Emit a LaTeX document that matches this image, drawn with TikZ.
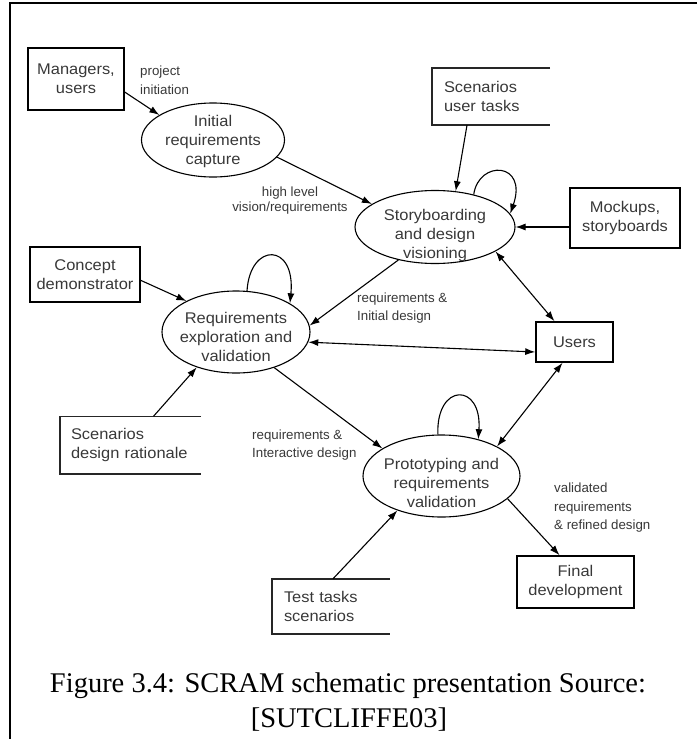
\documentclass[tikz,border=0pt]{standalone}
\usepackage{fontspec}
\setmainfont{Liberation Serif}
\newfontfamily\nodefont[FakeStretch=1.06]{Liberation Sans}
\newfontfamily\labelfont{Liberation Sans}
\usetikzlibrary{arrows.meta,shapes.geometric}

\begin{document}
\begin{tikzpicture}[x=1pt,y=-1pt,
  txt/.style={font=\nodefont\fontsize{15.5}{19}\selectfont, text=black!78, align=center},
  lbl/.style={font=\labelfont\fontsize{13.3}{18.5}\selectfont, text=black!78, inner sep=0pt, align=left},
  box/.style={txt, draw, line width=1.6pt, inner sep=0pt},
  openbox/.style={txt, align=left, inner ysep=0pt},
  sideline/.style={line width=1.6pt, draw=black!85},
  proc/.style={ellipse, draw, line width=1.1pt, inner sep=0pt},
  flow/.style={line width=1.1pt, -{Latex[length=10pt,width=7pt]}},
  twoway/.style={line width=1.1pt, {Latex[length=10pt,width=7pt]}-{Latex[length=10pt,width=7pt]}},
  captext/.style={font=\fontsize{28.5}{35}\selectfont, inner sep=0pt, anchor=base}
]
\useasboundingbox (0,0) rectangle (697,739);

% frame around the figure
\draw[line width=1.5pt] (697,3) -- (10,3) -- (10,739);

% closed boxes
\node[box, minimum width=96pt, minimum height=62pt] (mgr) at (76,79) {Managers,\\users};
\node[box, minimum width=110pt, minimum height=60pt] (mock) at (625,218) {Mockups,\\storyboards};
\node[box, minimum width=110pt, minimum height=55pt] (concept) at (85,274.5) {Concept\\demonstrator};
\node[box, minimum width=77pt, minimum height=40pt] (users) at (574.5,342) {Users};
\node[box, minimum width=117pt, minimum height=52pt] (final) at (575.5,582) {Final\\development};

% open-sided resource boxes
\node[openbox, minimum width=118pt, minimum height=57pt, text width=94pt, inner xsep=12pt] (sut) at (491,96.5) {Scenarios\\user tasks};
\node[openbox, minimum width=141pt, minimum height=57pt, text width=119pt, inner xsep=11pt] (sdr) at (130.5,445) {Scenarios\\design rationale};
\node[openbox, minimum width=118pt, minimum height=55pt, text width=94pt, inner xsep=12pt] (ttask) at (331,606.5) {Test tasks\\scenarios};
\foreach \b in {sut,sdr,ttask}
  \draw[sideline] (\b.north east) -- (\b.north west) -- (\b.south west) -- (\b.south east);

% process ellipses
\node[proc, minimum width=143pt, minimum height=74pt] (init) at (213,140) {};
\node[txt] (init-t) at (213,141) {Initial\\requirements\\capture};
\node[proc, minimum width=160pt, minimum height=73pt] (story) at (435,227) {};
\node[txt] (story-t) at (435,235) {Storyboarding\\and design\\visioning};
\node[proc, minimum width=148pt, minimum height=82pt] (req) at (236,332) {};
\node[txt] (req-t) at (236,337) {Requirements\\exploration and\\validation};
\node[proc, minimum width=157pt, minimum height=82pt] (proto) at (441.5,476) {};
\node[txt] (proto-t) at (441.5,483) {Prototyping and\\requirements\\validation};

% flow labels
\node[lbl, anchor=west] (l-init) at (140,80) {project\\initiation};
\node[lbl, align=center, font=\labelfont\fontsize{13.3}{15}\selectfont] (l-vision) at (290,201) {high level\\vision/requirements};
\node[lbl, anchor=west] (l-initial) at (357,308) {requirements \&\\Initial design};
\node[lbl, anchor=west] (l-inter) at (252,445) {requirements \&\\Interactive design};
\node[lbl, anchor=west] (l-valid) at (554,508) {validated\\requirements\\\& refined design};

% connectors
\draw[flow] (mgr.-15) -- (init.155);
\draw[flow] (init.-15) -- (story.160);
\draw[flow] ([xshift=-24pt]sut.south) -- (story.60);
\draw[flow] (story.40) .. controls +(5,-35) and +(18,-52) .. (story.10);
\draw[flow] (mock.west |- story.east) -- (story.east);
\draw[twoway] (story.-22) -- ([xshift=-20pt]users.north);
\draw[flow] (story.-138) -- (req.5);
\draw[twoway] (req.-8) -- ([yshift=-10pt]users.west);
\draw[flow] (concept.-6) -- (req.148);
\draw[flow] (req.75) .. controls +(3,-49) and +(6,-61) .. (req.28);
\draw[flow] ([xshift=23pt]sdr.north) -- (req.-138);
\draw[flow] (req.-43) -- (proto.155);
\draw[twoway] ([xshift=-12pt]users.south) -- (proto.28);
\draw[flow] (proto.95) .. controls +(-2,-52) and +(4,-57) .. (proto.45);
\draw[flow] ([xshift=2pt]ttask.north) -- (proto.-142);
\draw[flow] (proto.-19) -- ([xshift=-16pt]final.north);

% caption
\node[captext] (cap1) at (348,692) {Figure 3.4: SCRAM schematic presentation Source:};
\node[captext] (cap2) at (349,727) {[SUTCLIFFE03]};
\end{tikzpicture}
\end{document}
